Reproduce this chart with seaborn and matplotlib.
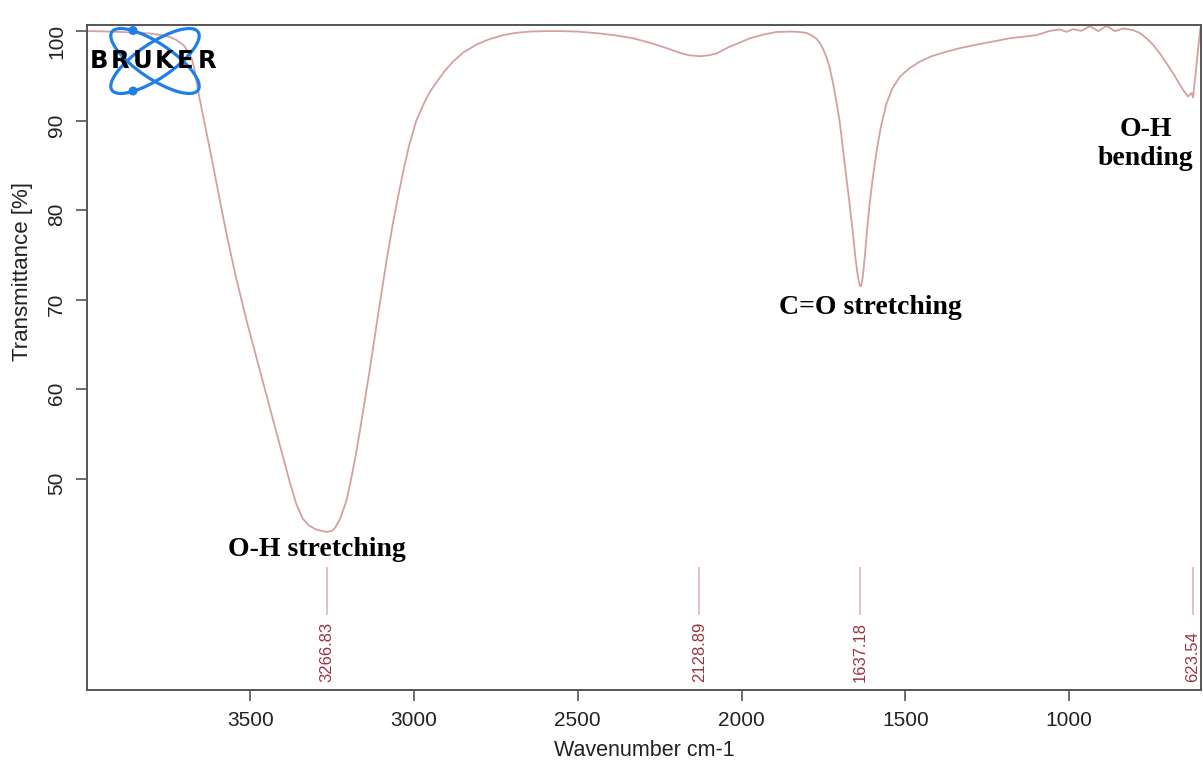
"""
Espectro FTIR (transmitancia vs número de onda) con picos marcados,
reconstruido a partir de la figura exportada por el software de Bruker.
"""

import matplotlib

matplotlib.use("Agg")
import matplotlib.pyplot as plt
import pandas as pd
import seaborn as sns
from matplotlib.patches import Circle, Ellipse

# Curva: número de onda (cm-1) y transmitancia (%)
numero_onda = [
    3998, 3990, 3928, 3860, 3807, 3770, 3746, 3725, 3710, 3700, 3690, 3679,
    3670, 3664, 3655, 3644, 3630, 3613, 3593, 3570, 3545, 3511, 3471, 3430,
    3400, 3380, 3360, 3340, 3320, 3300, 3280, 3267, 3250, 3240, 3225, 3206,
    3190, 3176, 3160, 3135, 3105, 3084, 3064, 3048, 3033, 3015, 2993, 2970,
    2950, 2931, 2905, 2881, 2850, 2809, 2770, 2728, 2690, 2647, 2600, 2550,
    2500, 2433, 2380, 2331, 2280, 2229, 2190, 2160, 2128, 2100, 2077, 2040,
    2000, 1975, 1935, 1894, 1850, 1822, 1802, 1785, 1770, 1760, 1750, 1740,
    1731, 1721, 1710, 1701, 1690, 1680, 1670, 1660, 1652, 1645, 1640, 1637,
    1634, 1630, 1624, 1617, 1609, 1600, 1588, 1575, 1558, 1540, 1517, 1490,
    1456, 1420, 1375, 1334, 1274, 1182, 1100, 1059, 1029, 1008, 988, 963,
    937, 912, 886, 861, 835, 805, 785, 764, 745, 723, 703, 683, 665, 652,
    637, 626, 622, 600,
]
transmitancia = [
    100.0, 100.0, 99.95, 99.85, 99.74, 99.55, 99.36, 99.0, 98.6, 98.3, 97.7, 97.0,
    95.8, 94.4, 92.6, 90.6, 88.0, 85.0, 81.2, 77.0, 72.8, 67.7, 62.2, 56.6,
    52.5, 49.8, 47.3, 45.6, 44.8, 44.4, 44.2, 44.1, 44.2, 44.6, 45.6, 47.6,
    50.3, 53.0, 56.5, 62.2, 69.4, 74.3, 78.6, 81.6, 84.3, 87.2, 90.0, 91.9,
    93.3, 94.3, 95.6, 96.6, 97.6, 98.5, 99.1, 99.55, 99.8, 99.95, 100.0, 100.0,
    99.95, 99.74, 99.5, 99.2, 98.7, 98.1, 97.6, 97.3, 97.2, 97.3, 97.5, 98.2,
    98.8, 99.2, 99.6, 99.9, 99.95, 99.9, 99.8, 99.5, 99.1, 98.6, 97.9, 97.0,
    95.9, 94.2, 92.0, 90.0, 86.6, 83.6, 80.6, 77.3, 74.5, 72.6, 71.7, 71.5,
    71.7, 72.6, 74.8, 77.8, 80.8, 83.5, 86.6, 89.3, 91.9, 93.6, 94.9, 95.8,
    96.6, 97.2, 97.7, 98.1, 98.55, 99.2, 99.55, 100.03, 100.19, 99.92, 100.22, 100.03,
    100.56, 100.0, 100.59, 100.0, 100.3, 100.11, 99.8, 99.19, 98.5, 97.5, 96.4, 95.3,
    94.2, 93.4, 92.7, 93.1, 92.6, 100.3,
]

# Picos detectados por el software
picos = [3266.83, 2128.89, 1637.18, 623.54]

# Asignación de bandas
bandas = ["O-H stretching", "C=O stretching", "O-H\nbending"]

ticks_x = [1000, 1500, 2000, 2500, 3000, 3500]
ticks_y = [50, 60, 70, 80, 90, 100]

COLOR_CURVA = "#d4a0a0"
COLOR_PICO = "#e3bcbc"
COLOR_TEXTO_PICO = "#9b3344"
COLOR_EJE = "#555555"


def dibujar_logo(fig):
    """Logo de Bruker (elipses azules + texto) en coordenadas de píxel."""
    W, H = fig.get_size_inches() * fig.dpi
    x0, y0, w, h = 84, 24, 140, 74  # caja en píxeles (origen arriba-izquierda)
    lax = fig.add_axes([x0 / W, 1 - (y0 + h) / H, w / W, h / H])
    lax.set_xlim(x0, x0 + w)
    lax.set_ylim(y0 + h, y0)
    lax.axis("off")
    lax.patch.set_alpha(0)
    azul = "#1f7fe6"
    for ang in (34, -34):
        lax.add_patch(Ellipse((155, 61), 104, 35, angle=ang, fill=False,
                              ec=azul, lw=2.3))
    lax.add_patch(Circle((133, 30.5), 3.8, color=azul))
    lax.add_patch(Circle((133, 91), 3.8, color=azul))
    letras = "BRUKER"
    paso = 130 / len(letras)
    for i, letra in enumerate(letras):
        lax.text(88 + paso * (i + 0.5), 61.5, letra, ha="center", va="center",
                 fontsize=17.5, fontweight="heavy", family="DejaVu Sans",
                 color="black")


def main():
    sns.set_theme(style="white")
    plt.rcParams["font.family"] = ["Liberation Sans", "DejaVu Sans"]

    df = pd.DataFrame({"numero_onda": numero_onda, "transmitancia": transmitancia})

    fig = plt.figure(figsize=(12.03, 7.66), dpi=100)
    ax = fig.add_axes([0.0723, 0.0992, 0.926, 0.868])

    sns.lineplot(data=df, x="numero_onda", y="transmitancia", ax=ax,
                 color=COLOR_CURVA, lw=1.3, estimator=None, sort=False)

    # Marcas de picos con su valor
    ax.vlines(picos, 34.8, 40.2, color=COLOR_PICO, lw=1.3)
    for p in picos:
        ax.text(p, 27.3, f"{p:.2f}", rotation=90, ha="center", va="bottom",
                fontsize=12, color=COLOR_TEXTO_PICO)

    # Etiquetas de bandas
    estilo = dict(fontsize=20, fontweight="bold", family="Liberation Serif",
                  color="black", ha="center")
    ax.text(3297, 41.4, bandas[0], va="baseline", **estilo)
    ax.text(1606, 68.4, bandas[1], va="baseline", **estilo)
    ax.text(766, 87.4, bandas[2], va="center", linespacing=1.25, **estilo)

    ax.set_xlim(3998, 598)
    ax.set_ylim(26.45, 100.67)
    ax.set_xticks(ticks_x)
    ax.set_yticks(ticks_y)
    ax.set_xlabel("Wavenumber cm-1", fontsize=15.5, color="#222222", labelpad=7)
    ax.set_ylabel("Transmittance [%]", fontsize=16, color="#222222")
    ax.yaxis.set_label_coords(-0.0485, 0.629)

    ax.tick_params(axis="both", direction="out", length=8, width=1.2,
                   color=COLOR_EJE, labelsize=15, labelcolor="#222222", pad=7,
                   bottom=True, left=True)
    ax.tick_params(axis="y", labelrotation=90)
    for lado in ax.spines.values():
        lado.set_color(COLOR_EJE)
        lado.set_linewidth(1.4)
    ax.grid(False)

    dibujar_logo(fig)

    fig.savefig("out.png", dpi=100)
    plt.close(fig)


if __name__ == "__main__":
    main()
